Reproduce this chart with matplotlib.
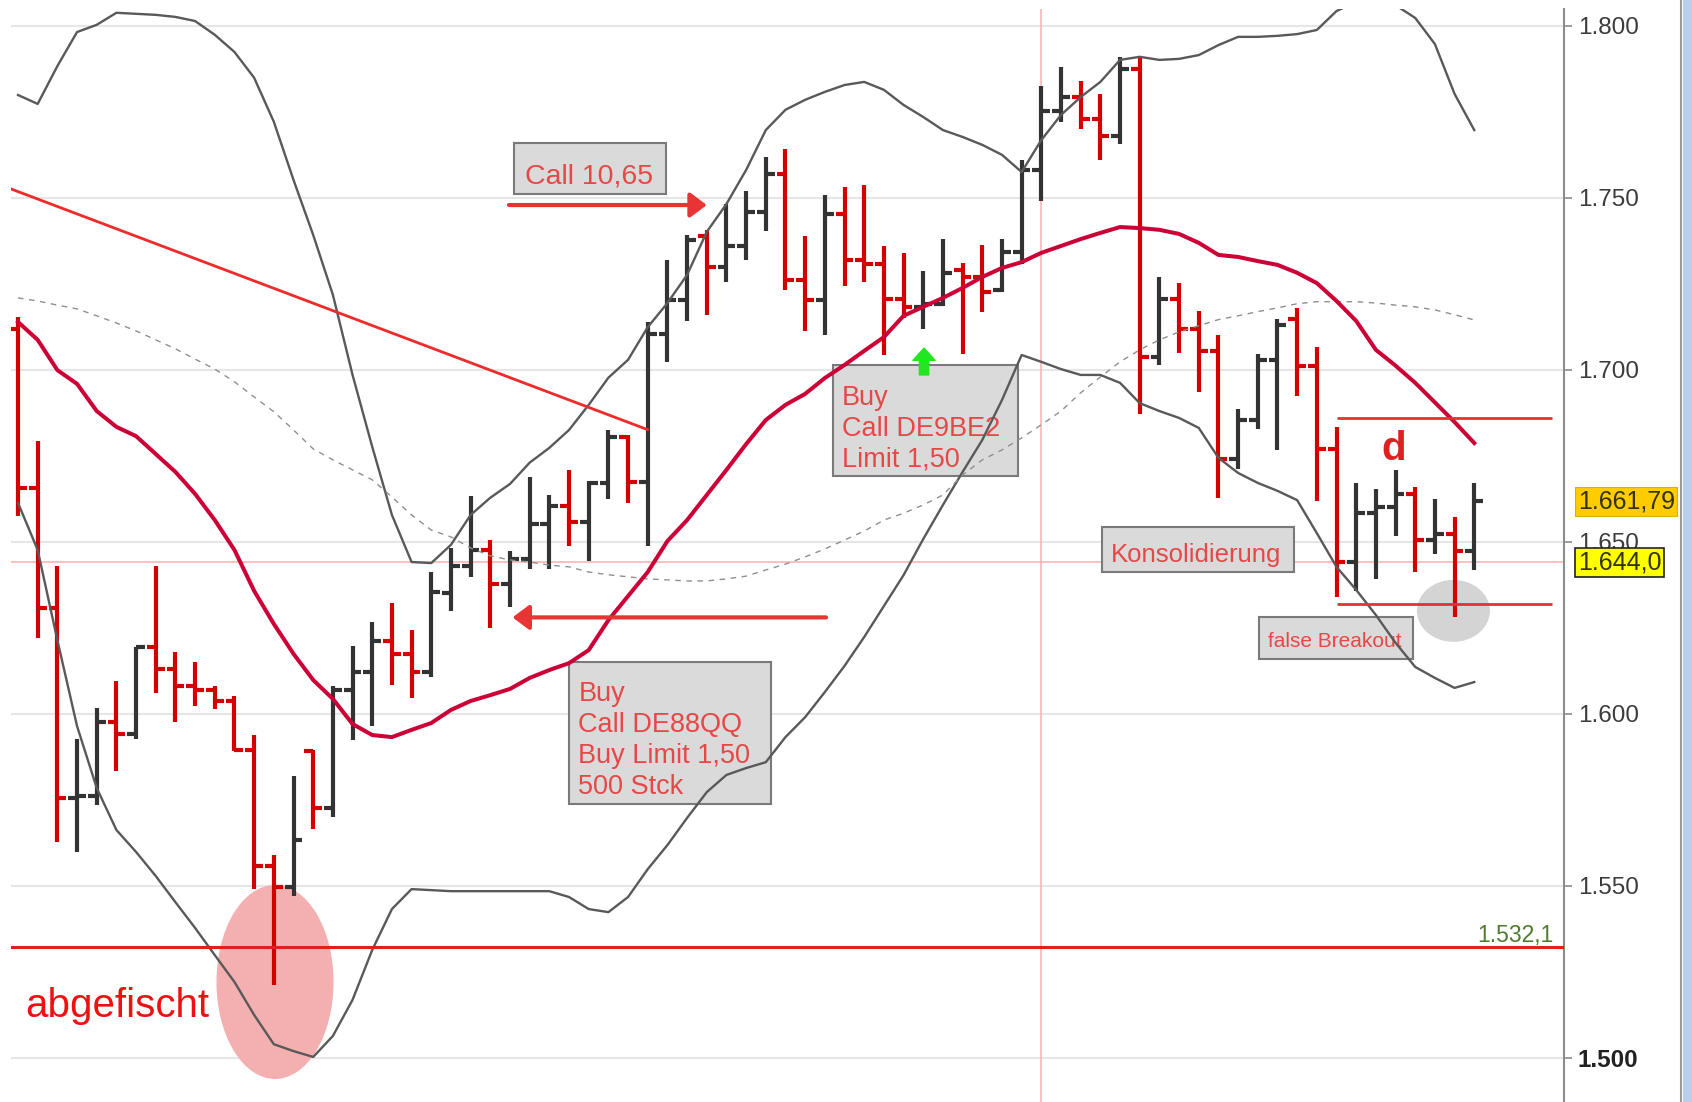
import numpy as np
import matplotlib.pyplot as plt
from matplotlib.patches import Ellipse, Rectangle
from matplotlib.transforms import blended_transform_factory

plt.rcParams['font.family'] = ['Liberation Sans', 'DejaVu Sans']

# --- OHLC bars, one per session (index 1..75), price in points ---
opens = [1711.8, 1665.7, 1630.6, 1575.5, 1576.0, 1597.7, 1594.1, 1619.3, 1613.1, 1608.0,
         1607.0, 1603.7, 1589.5, 1555.6, 1549.5, 1589.2, 1572.6, 1607.0, 1612.1, 1621.0,
         1617.3, 1612.1, 1635.2, 1643.0, 1647.6, 1637.6, 1644.9, 1655.2, 1660.5, 1655.7,
         1667.1, 1680.6, 1667.4, 1710.5, 1720.2, 1739.0, 1729.8, 1736.1, 1745.8, 1757.0,
         1726.0, 1720.2, 1745.2, 1732.0, 1730.8, 1720.6, 1718.2, 1719.2, 1728.9, 1727.0,
         1723.1, 1734.2, 1758.0, 1775.3, 1779.4, 1772.9, 1768.0, 1787.4, 1703.7, 1720.6,
         1711.9, 1705.6, 1674.1, 1685.3, 1702.7, 1714.8, 1701.0, 1676.9, 1644.0, 1658.5,
         1660.0, 1663.9, 1650.5, 1652.2, 1647.4]
highs = [1715.4, 1679.3, 1642.9, 1592.6, 1601.8, 1609.6, 1619.5, 1642.9, 1617.8, 1614.9,
         1608.2, 1605.2, 1593.8, 1559.0, 1581.8, 1589.5, 1608.0, 1619.6, 1626.8, 1632.1,
         1624.4, 1641.2, 1648.1, 1663.3, 1650.5, 1647.4, 1668.8, 1663.5, 1671.0, 1667.7,
         1682.5, 1681.1, 1713.9, 1731.8, 1739.3, 1740.5, 1748.3, 1751.9, 1762.0, 1764.2,
         1738.8, 1750.7, 1753.1, 1753.6, 1735.9, 1733.9, 1728.7, 1738.1, 1731.0, 1736.4,
         1738.1, 1760.9, 1782.6, 1788.1, 1784.0, 1780.3, 1790.8, 1791.0, 1726.9, 1725.2,
         1717.2, 1710.0, 1688.7, 1704.7, 1714.8, 1718.0, 1706.6, 1683.4, 1667.2, 1665.3,
         1670.8, 1665.8, 1662.4, 1657.1, 1667.2]
lows = [1657.5, 1621.9, 1562.8, 1559.7, 1573.6, 1583.4, 1592.6, 1606.0, 1597.5, 1602.2,
        1601.5, 1589.2, 1549.0, 1521.2, 1547.0, 1566.4, 1570.0, 1592.3, 1596.4, 1608.3,
        1604.6, 1610.8, 1629.8, 1639.8, 1624.9, 1631.0, 1642.2, 1642.2, 1648.8, 1644.4,
        1662.5, 1661.2, 1648.8, 1702.2, 1714.3, 1715.8, 1725.5, 1732.0, 1740.3, 1723.1,
        1711.4, 1710.2, 1724.3, 1725.5, 1704.2, 1715.1, 1711.9, 1718.5, 1704.7, 1716.8,
        1722.6, 1730.8, 1749.0, 1771.9, 1770.0, 1761.1, 1765.6, 1687.2, 1701.3, 1704.8,
        1693.5, 1662.6, 1671.2, 1682.9, 1676.6, 1692.5, 1661.9, 1633.8, 1635.8, 1639.1,
        1651.7, 1641.1, 1646.4, 1628.2, 1641.8]
closes = [1665.7, 1630.6, 1575.5, 1576.0, 1597.7, 1594.1, 1619.5, 1613.1, 1608.0, 1607.0,
          1603.7, 1589.5, 1555.6, 1549.5, 1563.3, 1572.6, 1607.0, 1612.1, 1621.0, 1617.3,
          1612.1, 1635.4, 1643.0, 1647.6, 1637.6, 1644.9, 1655.2, 1660.5, 1655.7, 1667.1,
          1680.6, 1667.4, 1710.5, 1720.2, 1737.6, 1729.8, 1736.1, 1745.8, 1757.0, 1726.0,
          1720.2, 1745.2, 1732.0, 1730.8, 1720.6, 1718.2, 1719.2, 1728.1, 1727.0, 1722.6,
          1734.2, 1758.0, 1775.3, 1779.4, 1772.9, 1768.0, 1787.4, 1703.7, 1720.6, 1711.9,
          1705.6, 1674.1, 1685.3, 1702.7, 1712.9, 1701.0, 1676.9, 1644.0, 1658.5, 1660.0,
          1663.9, 1650.5, 1652.2, 1647.4, 1661.9]

# --- indicator lines (same index) ---
upper_band = [1779.9, 1777.3, 1788.3, 1798.2, 1800.3, 1803.8, 1803.5, 1803.2, 1802.6, 1801.4,
              1797.4, 1792.4, 1784.9, 1772.1, 1755.2, 1739.2, 1721.8, 1698.5, 1677.6, 1657.8,
              1644.1, 1643.8, 1649.1, 1657.8, 1662.8, 1666.8, 1673.0, 1677.3, 1682.5, 1689.8,
              1697.7, 1702.9, 1712.4, 1719.4, 1727.6, 1740.1, 1748.2, 1758.1, 1769.7, 1775.6,
              1778.5, 1780.8, 1782.8, 1783.7, 1781.4, 1777.0, 1773.5, 1769.7, 1767.7, 1765.4,
              1762.5, 1757.5, 1766.8, 1774.1, 1779.3, 1783.7, 1790.1, 1791.0, 1790.1, 1790.4,
              1791.5, 1794.4, 1796.8, 1796.8, 1797.1, 1797.6, 1798.8, 1804.3, 1807.0, 1808.0,
              1806.0, 1802.3, 1794.7, 1780.2, 1769.7]
lower_band = [1661.3, 1647.6, 1621.4, 1596.4, 1578.4, 1566.2, 1559.8, 1552.8, 1545.2, 1537.7,
              1529.8, 1522.0, 1512.4, 1503.9, 1501.9, 1500.2, 1506.3, 1516.8, 1531.3, 1543.2,
              1549.0, 1548.7, 1548.4, 1548.4, 1548.4, 1548.4, 1548.4, 1548.4, 1546.7, 1543.2,
              1542.3, 1546.7, 1554.8, 1561.8, 1569.7, 1577.2, 1582.2, 1584.2, 1585.9, 1593.2,
              1599.0, 1606.3, 1613.9, 1622.3, 1631.3, 1640.3, 1650.8, 1660.7, 1670.3, 1679.6,
              1691.2, 1704.3, 1702.3, 1700.2, 1698.5, 1698.5, 1696.2, 1690.3, 1688.0, 1686.0,
              1683.1, 1674.4, 1670.0, 1667.1, 1664.8, 1662.1, 1652.5, 1642.7, 1636.0, 1628.7,
              1620.6, 1613.6, 1610.4, 1607.5, 1609.2]
slow_avg = [1720.9, 1720.0, 1718.8, 1717.7, 1715.7, 1713.6, 1711.3, 1708.7, 1706.1, 1703.1,
            1700.2, 1696.5, 1692.1, 1687.8, 1682.5, 1677.0, 1673.8, 1670.9, 1668.0, 1663.0,
            1657.8, 1653.4, 1651.4, 1648.2, 1645.9, 1644.7, 1644.1, 1643.2, 1642.7, 1641.2,
            1640.4, 1639.8, 1639.2, 1638.9, 1638.6, 1638.6, 1639.2, 1640.0, 1641.8, 1643.5,
            1645.6, 1647.9, 1650.5, 1653.1, 1656.3, 1658.3, 1660.7, 1663.6, 1669.4, 1673.8,
            1676.7, 1680.2, 1684.0, 1688.0, 1693.3, 1697.9, 1702.3, 1705.8, 1708.7, 1711.0,
            1712.8, 1714.6, 1715.7, 1716.9, 1718.0, 1719.2, 1719.8, 1719.8, 1719.8, 1719.4,
            1718.8, 1718.3, 1717.4, 1716.0, 1714.5]
fast_avg = [1713.9, 1708.7, 1699.9, 1695.9, 1688.0, 1683.4, 1680.7, 1675.5, 1670.3, 1663.9,
            1656.3, 1647.6, 1635.7, 1626.1, 1617.4, 1609.8, 1604.3, 1597.0, 1593.8, 1593.2,
            1595.3, 1597.3, 1601.1, 1603.7, 1605.4, 1607.2, 1610.4, 1612.7, 1614.7, 1618.5,
            1627.2, 1634.2, 1641.2, 1650.2, 1656.3, 1663.6, 1670.9, 1678.4, 1685.4, 1689.8,
            1693.0, 1697.6, 1701.4, 1705.5, 1709.5, 1715.7, 1718.3, 1720.9, 1723.8, 1727.0,
            1729.6, 1731.3, 1734.0, 1736.0, 1738.0, 1739.8, 1741.5, 1741.2, 1740.7, 1739.5,
            1736.9, 1733.4, 1732.8, 1731.6, 1730.5, 1728.2, 1725.2, 1720.0, 1714.2, 1705.8,
            1701.2, 1696.2, 1690.5, 1684.8, 1678.7]

ytick_values = [1500, 1550, 1600, 1650, 1700, 1750, 1800]
ytick_labels = ['1.500', '1.550', '1.600', '1.650', '1.700', '1.750', '1.800']

last_price, last_label = 1661.79, '1.661,79'
cursor_price, cursor_label = 1644.0, '1.644,0'
support_price, support_label = 1532.1, '1.532,1'
range_top, range_bottom = 1686.1, 1631.9
trend_x, trend_y = [0.634, 32.99], [1752.6, 1682.6]

RED_BAR = '#d40000'
DARK_BAR = '#333333'
NOTE_RED = '#e64848'

fig = plt.figure(figsize=(16.92, 11.02), dpi=100)
ax = fig.add_axes([11 / 1692, 0, (1564 - 11) / 1692, (1102 - 9) / 1102])
ax.set_xlim(0.644, 79.56)
ax.set_ylim(1487.1, 1804.9)

ax.set_yticks(ytick_values, ytick_labels)
ax.yaxis.tick_right()
ax.tick_params(axis='y', length=6, width=1.2, color='#8c8c8c', pad=4,
               labelsize=17.5, labelcolor='#3c3c3c')
ax.set_xticks([])
for lbl in ax.get_yticklabels():
    if lbl.get_text() == '1.500':
        lbl.set_fontweight('bold')
        lbl.set_color('#222222')
for s in ['left', 'top', 'bottom']:
    ax.spines[s].set_visible(False)
ax.spines['right'].set_color('#8c8c8c')
ax.spines['right'].set_linewidth(1.5)
ax.grid(axis='y', color='#e6e6e6', lw=1.5, zorder=0)
ax.set_axisbelow(True)

# cursor cross
ax.axhline(cursor_price, color='#ffb4b4', lw=1.2, zorder=0.6)
ax.axvline(53, color='#ffb4b4', lw=1.2, zorder=0.6)

# highlight ellipses
ax.add_patch(Ellipse((14.06, 1522.0), 5.95, 56.4, fc='#f4b0b0', ec='none', zorder=0.8))
ax.add_patch(Ellipse((73.94, 1629.9), 3.71, 18.0, fc='#d4d4d4', ec='none', zorder=0.8))

# note boxes (under the lines, as in the original)
def note(x0, x1, y0, y1, tx, ty, txt, size, va='top', ls=1.25):
    ax.add_patch(Rectangle((x0, y0), x1 - x0, y1 - y0, fc='#dadada', ec='#7a7a7a',
                           lw=1.5, zorder=1.5))
    ax.text(tx, ty, txt, color=NOTE_RED, fontsize=size, va=va, ha='left',
            linespacing=ls, zorder=1.6)

note(26.2, 33.93, 1751.0, 1765.8, 26.76, 1754.2, 'Call 10,65', 20.5, va='baseline')
note(29.0, 39.26, 1573.7, 1615.0, 29.47, 1609.5,
     'Buy\nCall DE88QQ\nBuy Limit 1,50\n500 Stck', 19.5)
note(42.41, 51.81, 1669.1, 1701.4, 42.85, 1695.6, 'Buy\nCall DE9BE2\nLimit 1,50', 19.5)
note(56.08, 65.84, 1641.1, 1654.2, 56.54, 1644.1, 'Konsolidierung', 18.5, va='baseline')
note(64.06, 71.88, 1615.9, 1628.1, 64.5, 1619.4, 'false Breakout', 15, va='baseline')

# OHLC bars
x = np.arange(1, len(opens) + 1)
bar_colors = [RED_BAR if c < o else DARK_BAR for o, c in zip(opens, closes)]
ax.vlines(x, lows, highs, colors=bar_colors, lw=3.0, zorder=3)
ax.hlines(opens, x - 0.45, x, colors=bar_colors, lw=3.0, zorder=3)
ax.hlines(closes, x, x + 0.45, colors=bar_colors, lw=3.0, zorder=3)

# indicators
ax.plot(x, upper_band, color='#595959', lw=1.7, zorder=4)
ax.plot(x, lower_band, color='#595959', lw=1.7, zorder=4)
ax.plot(x, slow_avg, color='#8f8f8f', lw=1.0, dashes=(4, 4), zorder=4)
ax.plot(x, fast_avg, color='#cc0036', lw=2.9, zorder=4.5)

# drawn lines
ax.plot(trend_x, trend_y, color='#ee2a2a', lw=2.0, zorder=5)
ax.axhline(support_price, color='#e41e1e', lw=2.2, zorder=5)
ax.hlines([range_top, range_bottom], 68.05, 78.96, color='#e83030', lw=2.0, zorder=5)

arrow_kw = dict(arrowstyle='-|>,head_length=0.4,head_width=0.3', color='#e83434',
                lw=3, mutation_scale=25, shrinkA=0, shrinkB=0)
ax.annotate('', xy=(36.0, 1747.9), xytext=(25.95, 1747.9), arrowprops=arrow_kw, zorder=6)
ax.annotate('', xy=(26.13, 1628.0), xytext=(42.06, 1628.0), arrowprops=arrow_kw, zorder=6)
ax.annotate('', xy=(47.04, 1706.3), xytext=(47.04, 1698.5),
            arrowprops=dict(arrowstyle='simple,head_length=0.55,head_width=1.0,tail_width=0.42',
                            color='#22e622', mutation_scale=16, shrinkA=0, shrinkB=0),
            zorder=6)

ax.text(1.35, 1511.8, 'abgefischt', color='#ee1111', fontsize=29, va='baseline', zorder=6)
ax.text(70.3, 1673.8, 'd', color='#e02020', fontsize=29, fontweight='bold',
        va='baseline', zorder=6)
ax.text(79.05, 1533.6, support_label, color='#4e7d2e', fontsize=16.5, ha='right',
        va='baseline', zorder=6)

# price tags on the scale (they cover part of the 1.650 label, as in the original)
tr = blended_transform_factory(ax.transAxes, ax.transData)
ax.text(1.009, last_price, last_label, transform=tr, fontsize=18, color='#333300',
        va='center', ha='left', clip_on=False, zorder=10,
        bbox=dict(boxstyle='square,pad=0.1', fc='#ffcc00', ec='#e0b000', lw=0.8))
ax.text(1.009, cursor_price, cursor_label, transform=tr, fontsize=18, color='#333300',
        va='center', ha='left', clip_on=False, zorder=10,
        bbox=dict(boxstyle='square,pad=0.1', fc='#ffff00', ec='#222222', lw=1.2))

# window frame on the far right
fig.add_artist(Rectangle((1683 / 1692, 0), 9 / 1692, 1, transform=fig.transFigure,
                         fc='#b8d0ea', ec='none'))
fig.add_artist(plt.Line2D([1681 / 1692, 1681 / 1692], [0, 1], transform=fig.transFigure,
                          color='#9a9a9a', lw=1.5))

fig.savefig('out.png', dpi=100)
